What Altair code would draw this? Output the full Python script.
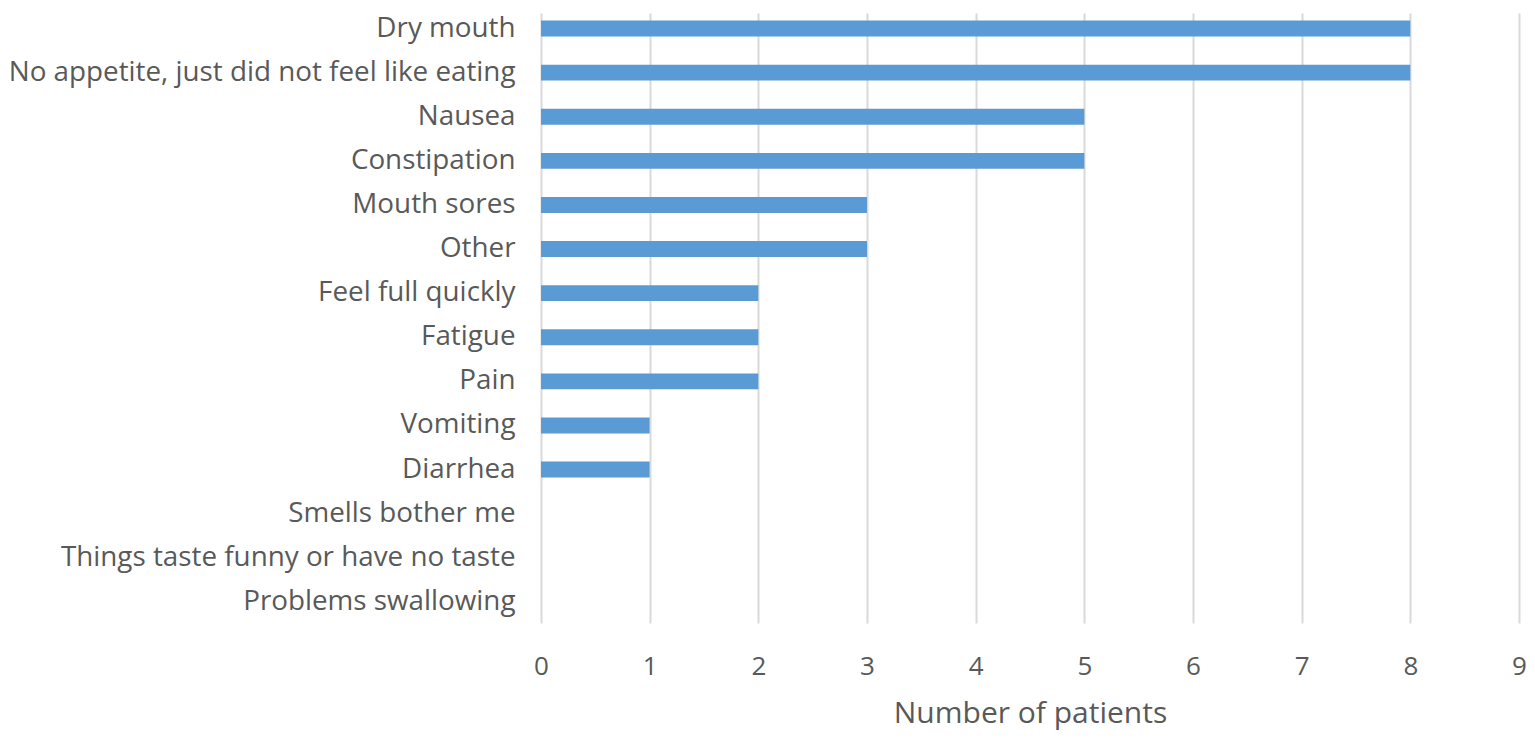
import altair as alt
import pandas as pd

categories = [
    "Dry mouth",
    "No appetite, just did not feel like eating",
    "Nausea",
    "Constipation",
    "Mouth sores",
    "Other",
    "Feel full quickly",
    "Fatigue",
    "Pain",
    "Vomiting",
    "Diarrhea",
    "Smells bother me",
    "Things taste funny or have no taste",
    "Problems swallowing",
]
values = [8, 8, 5, 5, 3, 3, 2, 2, 2, 1, 1, 0, 0, 0]
x_ticks = [0, 1, 2, 3, 4, 5, 6, 7, 8, 9]

df = pd.DataFrame({"symptom": categories, "patients": values})

FONT = "Open Sans"
GRAY = "#595959"

chart = (
    alt.Chart(df)
    .mark_bar(color="#5B9BD5")
    .encode(
        y=alt.Y(
            "symptom:N",
            sort=categories,
            title=None,
            scale=alt.Scale(paddingInner=0.64, paddingOuter=0.236, align=0.365),
            axis=alt.Axis(
                labelFont=FONT,
                labelFontSize=27.8,
                labelColor=GRAY,
                labelPadding=26,
                ticks=False,
                domain=False,
                grid=False,
                labelLimit=800,
            ),
        ),
        x=alt.X(
            "patients:Q",
            title="Number of patients",
            scale=alt.Scale(domain=[0, 9], nice=False),
            axis=alt.Axis(
                values=x_ticks,
                labelFont=FONT,
                labelFontSize=26,
                labelColor=GRAY,
                labelPadding=30,
                labelFlush=False,
                titleFont=FONT,
                titleFontSize=30,
                titleFontWeight="normal",
                titleColor=GRAY,
                titlePadding=19,
                ticks=False,
                domain=False,
                grid=True,
                gridColor="#D9D9D9",
                gridWidth=2,
            ),
        ),
    )
    .properties(
        width=978,
        height=610,
        padding={"left": 0, "top": 5, "right": 0, "bottom": 2},
    )
    .configure_view(stroke=None)
)

chart.save("out.html", embed_options={"renderer": "svg", "actions": False})
